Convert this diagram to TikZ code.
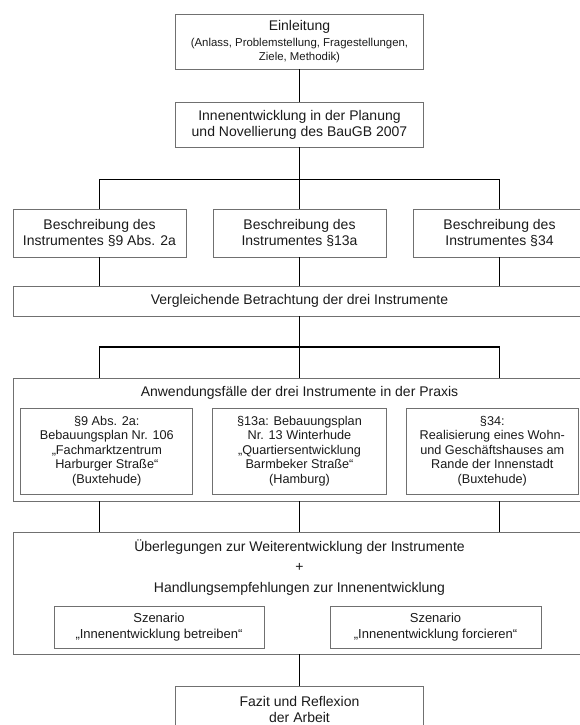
\documentclass[tikz,border=0pt]{standalone}
\usepackage{fontspec}
\setmainfont{Liberation Sans}
\usetikzlibrary{positioning}
\definecolor{boxline}{HTML}{707070}
\definecolor{schrift}{HTML}{1A1A1A}

\tikzset{
  box/.style={draw=boxline, line width=0.9pt, align=center, inner sep=0pt,
    text=schrift, font=\fontsize{14}{16}\selectfont},
  fallbox/.style={box, minimum width=172pt, minimum height=86pt,
    font=\fontsize{12.7}{14.6}\selectfont},
  szenbox/.style={box, minimum width=210pt, minimum height=42pt,
    font=\fontsize{13}{16}\selectfont},
  link/.style={draw=black, line width=1.5pt},
}
\newcommand{\klein}{\fontsize{11.4}{13.3}\selectfont}

\begin{document}
\begin{tikzpicture}[x=1pt, y=-1pt]
  \useasboundingbox (0,0) rectangle (580,725);
  \clip (0,0) rectangle (580,725);

  % oberer Teil
  \node[box, minimum width=248pt, minimum height=55pt] (einl) at (299.5,41.5)
    {Einleitung\\ \klein (Anlass, Problemstellung, Fragestellungen,\\[-2.7pt] \klein Ziele, Methodik)};
  \node[box, minimum width=248pt, minimum height=45pt] (plan) at (299.5,124.5)
    {Innenentwicklung in der Planung\\ und Novellierung des BauGB 2007};
  \foreach \i/\x/\nr in {1/99.5/{§9 Abs. 2a}, 2/299.5/{§13a}, 3/499.5/{§34}} {
    \node[box, minimum width=173pt, minimum height=48pt] (besch\i) at (\x,233)
      {Beschreibung des\\ Instrumentes \nr};
  }
  \node[box, minimum width=573pt, minimum height=30pt] (vergl) at (299.5,301)
    {Vergleichende Betrachtung der drei Instrumente};

  % Anwendungsfaelle
  \node[box, minimum width=573pt, minimum height=123pt] (anw) at (299.5,439.5) {};
  \node[font=\fontsize{14}{16}\selectfont, text=schrift] (anwtitel) at (299.5,392.5)
    {Anwendungsfälle der drei Instrumente in der Praxis};
  \node[fallbox] (fall1) at (106.8,451)
    {§9 Abs. 2a:\\ Bebauungsplan Nr. 106\\ „Fachmarktzentrum\\ Harburger Straße“\\ (Buxtehude)};
  \node[fallbox, minimum width=174pt] (fall2) at (299.5,451)
    {§13a: Bebauungsplan\\ Nr. 13 Winterhude\\ „Quartiersentwicklung\\ Barmbeker Straße“\\ (Hamburg)};
  \node[fallbox] (fall3) at (492.3,451)
    {§34:\\ Realisierung eines Wohn-\\ und Geschäftshauses am\\ Rande der Innenstadt\\ (Buxtehude)};

  % Ueberlegungen
  \node[box, minimum width=573pt, minimum height=122pt] (ueb) at (299.5,593) {};
  \node[font=\fontsize{14}{16}\selectfont, text=schrift, align=center] (uebtext) at (299.5,567.5)
    {Überlegungen zur Weiterentwicklung der Instrumente\\[4.5pt] +\\[4.5pt]
     Handlungsempfehlungen zur Innenentwicklung};
  \node[szenbox] (szen1) at (159,627)
    {Szenario\\ „Innenentwicklung betreiben“};
  \node[szenbox, minimum width=211pt] (szen2) at (435.5,627)
    {Szenario\\ „Innenentwicklung forcieren“};

  \node[box, minimum width=248pt, minimum height=46pt] (fazit) at (299.5,709)
    {Fazit und Reflexion\\ der Arbeit};

  % Verbindungen
  \coordinate (bus1) at (299.5,179.5);
  \coordinate (bus2) at (299.5,347);
  \draw[link] (einl) -- (plan);
  \draw[link] (plan) -- (bus1);
  \draw[link] (besch1) |- (bus1) -| (besch3);
  \draw[link] (bus1) -- (besch2);
  \foreach \i in {1,2,3}
    \draw[link] (besch\i) -- (besch\i |- vergl.north);
  \draw[link] (vergl) -- (bus2);
  \draw[link] (besch1 |- anw.north) |- (bus2) -| (besch3 |- anw.north);
  \draw[link] (bus2) -- (anw);
  \foreach \i in {1,2,3}
    \draw[link] (besch\i |- anw.south) -- (besch\i |- ueb.north);
  \draw[link] (ueb) -- (fazit);
\end{tikzpicture}
\end{document}
